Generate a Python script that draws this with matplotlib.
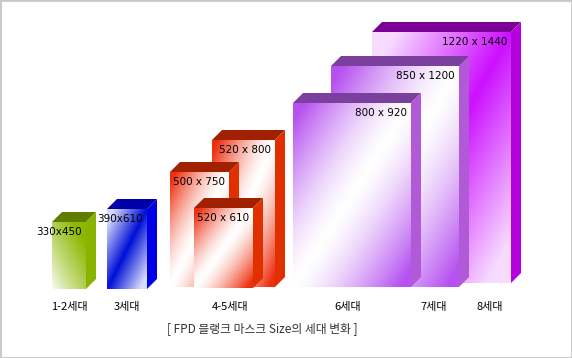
import numpy as np
import matplotlib
matplotlib.use("Agg")
import matplotlib.pyplot as plt
from matplotlib.patches import Polygon, Rectangle
from matplotlib.colors import to_rgb

# data ------------------------------------------------------------------------
gen_labels = ["1-2세대", "3세대", "4-5세대", "6세대", "7세대", "8세대"]
size_labels = ["330x450", "390x610", "500 x 750", "520 x 610", "520 x 800",
               "800 x 920", "850 x 1200", "1220 x 1440"]
caption = "[ FPD 블랭크 마스크 Size의 세대 변화 ]"

# layout (pixel units of the picture) -----------------------------------------
box_left = [52, 107, 170, 194, 212, 293, 331, 372]
box_right = [86, 147, 229, 253, 275, 411, 459, 511]
box_top = [222, 209, 172, 208, 140, 103, 66, 32]
box_bottom = [289, 289, 287, 288, 287, 287, 287, 283]
draw_order = [0, 1, 4, 2, 3, 7, 6, 5]
gen_x = [69, 127, 230, 348, 434, 490]
DEPTH = 10

# styles: front colour, top colour, side colour, gradient mode
styles = [
    ("#8cb800", "#5f7d00", "#88b400", "ramp"),
    ("#0010d8", "#0000a8", "#0000e6", "band"),
    ("#ee3010", "#a02000", "#e03000", "edge"),
    ("#ee3010", "#a02000", "#e03000", "edge"),
    ("#ee3010", "#a02000", "#e03000", "edge"),
    ("#b652f0", "#7b3f9e", "#b05ad8", "edge"),
    ("#b652f0", "#7b3f9e", "#b05ad8", "edge"),
    ("#cc10ff", "#7d0096", "#b400dc", "band"),
]


def front_gradient(color, mode, nx=120, ny=200):
    xn = np.linspace(0, 1, nx)[None, :]
    yv = np.linspace(0, 1, ny)[:, None]
    u = xn - (1 - yv)
    if mode == "edge":
        a = np.clip(np.abs(u) * 1.1, 0, 1) ** 1.4
    elif mode == "band":
        a = 1 - 0.85 * np.clip(np.abs(u) * 1.2, 0, 1)
    else:
        a = np.clip((xn + (1 - yv)) / 2 * 1.2, 0, 1) ** 0.8
    c = np.array(to_rgb(color))
    return 1 - a[..., None] * (1 - c)


fig = plt.figure(figsize=(5.72, 3.58), dpi=100)
ax = fig.add_axes([0, 0, 1, 1])
ax.set_xlim(0, 572)
ax.set_ylim(358, 0)
ax.axis("off")

for z, i in enumerate(draw_order):
    x0, x1, yt, yb = box_left[i], box_right[i], box_top[i], box_bottom[i]
    front, top, side, mode = styles[i]
    zo = 2 + z
    ax.imshow(front_gradient(front, mode), extent=(x0, x1, yb, yt),
              origin="upper", aspect="auto", zorder=zo, interpolation="bilinear")
    ax.add_patch(Polygon([(x0, yt), (x0 + DEPTH, yt - DEPTH),
                          (x1 + DEPTH, yt - DEPTH), (x1, yt)],
                         closed=True, fc=top, ec="none", zorder=zo))
    ax.add_patch(Polygon([(x1, yt), (x1 + DEPTH, yt - DEPTH),
                          (x1 + DEPTH, yb - DEPTH), (x1, yb)],
                         closed=True, fc=side, ec="none", zorder=zo))
    ax.text(x1 - 4, yt + 10, size_labels[i], ha="right", va="center",
            fontsize=7.5, color="black", family="DejaVu Sans", zorder=zo)

for x, lab in zip(gen_x, gen_labels):
    ax.text(x, 307, lab, ha="center", va="center", fontsize=8,
            fontweight="medium",
            family=["Noto Sans CJK KR", "DejaVu Sans"], color="black")

ax.text(262, 329, caption, ha="center", va="center", fontsize=8.5,
        family=["Noto Sans CJK KR", "DejaVu Sans"], color="#333333")

fig.patches.append(Rectangle((0, 0), 1, 1, transform=fig.transFigure,
                             fill=False, ec="#c8c8c8", lw=2))

fig.savefig("out.png", dpi=100)
